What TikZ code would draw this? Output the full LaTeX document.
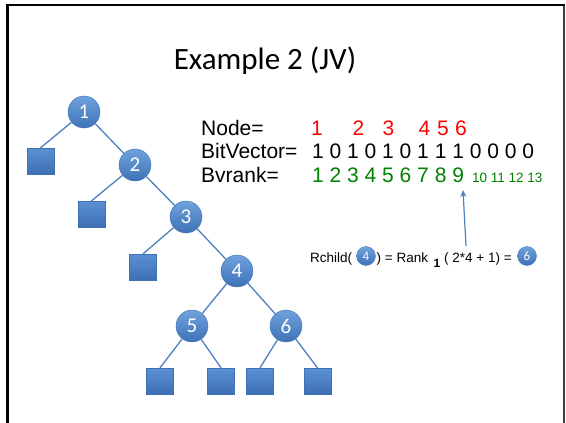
\documentclass[tikz,border=0pt]{standalone}
\usepackage{fontspec}
\setmainfont{Liberation Sans}
\newfontfamily\calib{Carlito}
\usetikzlibrary{arrows.meta}
\definecolor{edgeblue}{RGB}{79,129,189}
\definecolor{balltop}{RGB}{112,162,222}
\definecolor{ballbot}{RGB}{62,114,182}
\definecolor{sqtop}{RGB}{90,145,210}
\definecolor{sqbot}{RGB}{62,112,180}
\definecolor{rednum}{RGB}{255,0,0}
\definecolor{greennum}{RGB}{0,130,0}
\tikzset{
  treenode/.style={circle, minimum size=32pt, inner sep=0pt, top color=balltop, bottom color=ballbot, draw=ballbot, line width=0.4pt, text=white, font=\calib\fontsize{21}{21}\selectfont},
  smallball/.style={circle, minimum size=19pt, inner sep=0pt, top color=balltop, bottom color=ballbot, draw=ballbot, line width=0.3pt, text=white, font=\calib\fontsize{13}{13}\selectfont},
  leaf/.style={rectangle, minimum width=27pt, minimum height=26pt, inner sep=0pt, top color=sqtop, bottom color=sqbot, draw=sqbot, line width=0.3pt},
  link/.style={draw=edgeblue, line width=1.3pt},
  rowtxt/.style={anchor=base west, inner sep=0pt, font=\fontsize{21}{21}\selectfont},
  rednode/.style={anchor=base, inner sep=0pt, text=rednum, font=\fontsize{21}{21}\selectfont},
  formula/.style={anchor=base west, inner sep=0pt, font=\fontsize{13.5}{13.5}\selectfont},
}
\begin{document}
\begin{tikzpicture}[x=1pt, y=-1pt]
\useasboundingbox (0,0) rectangle (566,423);
\fill[white] (0,0) rectangle (566,423);
% frame
\draw[black!75, line width=1.4pt] (564,5) -- (564,423);
\draw[black, line width=2.4pt] (7.5,423) -- (7.5,5) -- (564.5,5);
% title
\node[anchor=base, inner sep=0pt, font=\calib\fontsize{31}{31}\selectfont] (title) at (265,70) {Example 2 (JV)};
% tree
\node[treenode] (n1) at (84,112) {1};
\node[treenode] (n2) at (135,165) {2};
\node[treenode] (n3) at (186,217) {3};
\node[treenode] (n4) at (237,271) {4};
\node[treenode] (n5) at (192,326) {5};
\node[treenode] (n6) at (286,326) {6};
\node[leaf] (s1) at (40.5,161) {};
\node[leaf] (s2) at (91.5,214) {};
\node[leaf] (s3) at (143,267) {};
\node[leaf] (s4) at (160,381) {};
\node[leaf] (s5) at (221,381) {};
\node[leaf] (s6) at (260,381) {};
\node[leaf] (s7) at (317.5,381) {};
\draw[link] (n1) -- (s1.north);
\draw[link] (n1) -- (n2);
\draw[link] (n2) -- (s2.north);
\draw[link] (n2) -- (n3);
\draw[link] (n3) -- (s3.north);
\draw[link] (n3) -- (n4);
\draw[link] (n4) -- (n5);
\draw[link] (n4) -- (n6);
\draw[link] (n5) -- (s4.north);
\draw[link] (n5) -- (s5.north);
\draw[link] (n6) -- (s6.north);
\draw[link] (n6) -- (s7.north);
% rows
\node[rowtxt] (lnode) at (201,135) {Node=};
\node[rowtxt] (lbit) at (201,158.5) {BitVector=};
\node[rowtxt] (lrank) at (201,182) {Bvrank=};
\node[rednode] (r1) at (317,135) {1};
\node[rednode] (r2) at (358.5,135) {2};
\node[rednode] (r3) at (388.5,135) {3};
\node[rednode] (r4) at (424.5,135) {4};
\node[rednode] (r5) at (443,135) {5};
\node[rednode] (r6) at (461,135) {6};
\node[rowtxt] (bits) at (312,158.5) {1 0 1 0 1 0 1 1 1 0 0 0 0};
\node[rowtxt, text=greennum] (ranks) at (312,182) {1 2 3 4 5 6 7 8 9};
\node[anchor=base west, inner sep=0pt, text=greennum, font=\fontsize{13.5}{13.5}\selectfont] (ranks2) at (472,182) {10 11 12 13};
% arrow
\coordinate (atail) at (466,246);
\coordinate (ahead) at (463,190);
\draw[edgeblue, line width=1.2pt, -{Stealth[length=7pt,width=6pt]}] (atail) -- (ahead);
% formula
\node[formula] (f1) at (310,262) {Rchild(};
\node[smallball] (c4) at (366,256) {4};
\node[formula] (f2) at (376.5,262) {) = Rank};
\node[anchor=base, inner sep=0pt, font=\bfseries\fontsize{12}{12}\selectfont] (fsub) at (437,267) {1};
\node[formula] (f3) at (444,262) {( 2*4 + 1) =};
\node[smallball] (c6) at (527,256) {6};
\end{tikzpicture}
\end{document}
